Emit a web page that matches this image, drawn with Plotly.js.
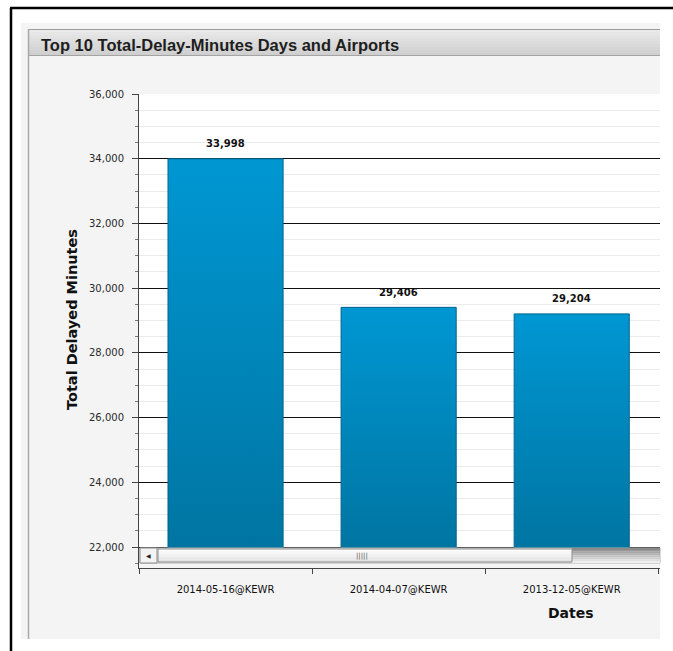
<!DOCTYPE html>
<html>
<head>
<meta charset="utf-8">
<script src="https://cdn.plot.ly/plotly-3.0.1.min.js"></script>
<style>html,body{margin:0;padding:0;background:#fff;}#chart{width:673px;height:651px;}</style>
</head>
<body>
<div id="chart"></div>
<script>
// ---- data ----
const categories = ["2014-05-16@KEWR", "2014-04-07@KEWR", "2013-12-05@KEWR"];
const delayMinutes = [33998, 29406, 29204];
const yTickVals = [22000, 24000, 26000, 28000, 30000, 32000, 34000, 36000];
const chartTitle = "Top 10 Total-Delay-Minutes Days and Airports";
const yTitle = "Total Delayed Minutes";
const xTitle = "Dates";

// ---- layout helpers (pixel -> paper) ----
const W = 673, H = 651;
const L = 139, T = 94, PW = 521, PH = 474; // plot area
const VIS_BOTTOM = 548; // bottom of visible bars (scrollbar top)
const px = x => (x - L) / PW;
const py = y => (T + PH - y) / PH;
function rect(x0, y0, x1, y1, fill, line, lw, layer) {
  return {type: 'rect', xref: 'paper', yref: 'paper', x0: px(x0), x1: px(x1), y0: py(y1), y1: py(y0),
    fillcolor: fill, line: {color: line || 'rgba(0,0,0,0)', width: lw || 0}, layer: layer || 'below'};
}
function line(x0, y0, x1, y1, color, lw, layer) {
  return {type: 'line', xref: 'paper', yref: 'paper', x0: px(x0), x1: px(x1), y0: py(y0), y1: py(y1),
    line: {color: color, width: lw}, layer: layer || 'below'};
}
function gradient(x0, y0, x1, y1, c0, c1, n, layer) {
  const out = [];
  const hex = c => [1, 3, 5].map(i => parseInt(c.substr(i, 2), 16));
  const a = hex(c0), b = hex(c1);
  for (let i = 0; i < n; i++) {
    const t = n === 1 ? 0 : i / (n - 1);
    const c = a.map((v, k) => Math.round(v + (b[k] - v) * t));
    const ya = y0 + (y1 - y0) * i / n, yb = y0 + (y1 - y0) * (i + 1) / n;
    out.push(rect(x0, ya, x1, yb, 'rgb(' + c.join(',') + ')', null, 0, layer));
  }
  return out;
}

const shapes = [];
// panel
shapes.push(rect(21, 23, 660, 639, '#f4f4f4'));
// title bar
shapes.push(...gradient(28, 29, 660, 56, '#e9e9e9', '#cfcfcf', 9));
shapes.push(line(28, 29.5, 660, 29.5, '#9c9c9c', 1));
shapes.push(line(28, 55.5, 660, 55.5, '#a4a4a4', 1));
shapes.push(line(28.5, 29, 28.5, 639, '#a9a9a9', 1.5));
// plot area white
shapes.push(rect(139, 94, 660, 568, '#ffffff'));
// outer black frame
shapes.push(line(10, 8, 673, 8, '#000000', 2.5, 'above'));
shapes.push(line(11, 8, 11, 651, '#000000', 2.5, 'above'));
// scrollbar region (above bars)
shapes.push(rect(139.5, 548, 660, 568, '#f4f4f4', null, 0, 'above'));
shapes.push(rect(140, 548, 660, 563, '#f7f7f7', '#b0b0b0', 1, 'above'));
shapes.push(rect(140, 548, 157, 563, '#f3f3f3', '#8c8c8c', 1, 'above'));
shapes.push(...gradient(572, 548, 660, 563, '#8a8a8a', '#ececec', 8, 'above'));
shapes.push(...gradient(158, 549, 572, 562, '#fdfdfd', '#e2e2e2', 5, 'above'));
shapes.push(rect(158, 549, 572, 562, 'rgba(0,0,0,0)', '#8e8e8e', 1, 'above'));

const annotations = [
  {text: '<b>' + chartTitle + '</b>', xref: 'paper', yref: 'paper', x: px(39), y: py(45), xanchor: 'left', yanchor: 'middle',
   showarrow: false, font: {family: 'Liberation Sans, Arial, sans-serif', size: 16.5, color: '#1e1e1e'}},
  {text: '<b>' + yTitle + '</b>', xref: 'paper', yref: 'paper', x: px(72), y: py(320), xanchor: 'center', yanchor: 'middle',
   textangle: -90, showarrow: false, font: {family: 'DejaVu Sans', size: 14.5, color: '#111'}},
  {text: '<b>' + xTitle + '</b>', xref: 'paper', yref: 'paper', x: px(571), y: py(613), xanchor: 'center', yanchor: 'middle',
   showarrow: false, font: {family: 'DejaVu Sans', size: 14, color: '#111'}},
  {text: '◀', xref: 'paper', yref: 'paper', x: px(148.5), y: py(555.5), xanchor: 'center', yanchor: 'middle',
   showarrow: false, font: {family: 'DejaVu Sans', size: 6, color: '#222'}},
  {text: '|||||', xref: 'paper', yref: 'paper', x: px(362), y: py(555.5), xanchor: 'center', yanchor: 'middle',
   showarrow: false, font: {family: 'DejaVu Sans', size: 7, color: '#555'}}
];
// value labels above bars, from the data
categories.forEach((c, i) => {
  annotations.push({text: '<b>' + delayMinutes[i].toLocaleString('en-US') + '</b>', x: c, y: delayMinutes[i],
    xref: 'x', yref: 'y', xanchor: 'center', yanchor: 'middle', yshift: 15, showarrow: false,
    font: {family: 'DejaVu Sans', size: 10, color: '#111'}});
});

const trace = {
  type: 'bar',
  x: categories,
  y: delayMinutes,
  width: 0.665,
  marker: {color: '#0089bf', line: {color: '#00648c', width: 1}},
  hoverinfo: 'x+y'
};

const layout = {
  width: W, height: H,
  margin: {l: L, r: W - L - PW, t: T, b: H - T - PH, pad: 0},
  paper_bgcolor: '#ffffff',
  plot_bgcolor: 'rgba(0,0,0,0)',
  showlegend: false,
  xaxis: {
    type: 'category', range: [-0.5, 2.51], fixedrange: true,
    tickson: 'boundaries', ticks: 'outside', ticklen: 5, tickcolor: '#444', tickwidth: 1,
    showline: true, linecolor: '#444', linewidth: 1, showgrid: false, zeroline: false,
    ticklabelstandoff: 12,
    tickfont: {family: 'DejaVu Sans', size: 10, color: '#111'}
  },
  yaxis: {
    range: [21351, 36000], fixedrange: true,
    tickmode: 'array', tickvals: yTickVals, ticktext: yTickVals.map(v => v.toLocaleString('en-US')),
    ticks: 'outside', ticklen: 6, tickcolor: '#444', tickwidth: 1,
    showline: true, linecolor: '#444', linewidth: 1,
    showgrid: true, gridcolor: '#111', gridwidth: 1, zeroline: false,
    ticklabelstandoff: 6,
    tickfont: {family: 'DejaVu Sans', size: 10, color: '#2a2a2a'},
    minor: {dtick: 500, tick0: 0, ticks: 'outside', ticklen: 3, tickcolor: '#777', showgrid: true, gridcolor: '#ebebeb', gridwidth: 1}
  },
  shapes: shapes,
  annotations: annotations
};

Plotly.newPlot('chart', [trace], layout, {displayModeBar: false, staticPlot: true}).then(gd => {
  // vertical gradient fill on each bar (bright top, darker bottom)
  const svg = gd.querySelector('svg.main-svg');
  let defs = svg.querySelector('defs');
  if (!defs) { defs = document.createElementNS('http://www.w3.org/2000/svg', 'defs'); svg.prepend(defs); }
  const paths = gd.querySelectorAll('.barlayer .point path');
  paths.forEach((p, i) => {
    const bb = p.getBBox();
    const g = document.createElementNS('http://www.w3.org/2000/svg', 'linearGradient');
    g.setAttribute('id', 'barGrad' + i);
    g.setAttribute('gradientUnits', 'userSpaceOnUse');
    g.setAttribute('x1', 0); g.setAttribute('x2', 0);
    g.setAttribute('y1', bb.y); g.setAttribute('y2', VIS_BOTTOM - T);
    [['0', '#0097d3'], ['1', '#0075a2']].forEach(([o, c]) => {
      const s = document.createElementNS('http://www.w3.org/2000/svg', 'stop');
      s.setAttribute('offset', o); s.setAttribute('stop-color', c);
      g.appendChild(s);
    });
    defs.appendChild(g);
    p.style.fill = 'url(#barGrad' + i + ')';
  });
});
</script>
</body>
</html>
